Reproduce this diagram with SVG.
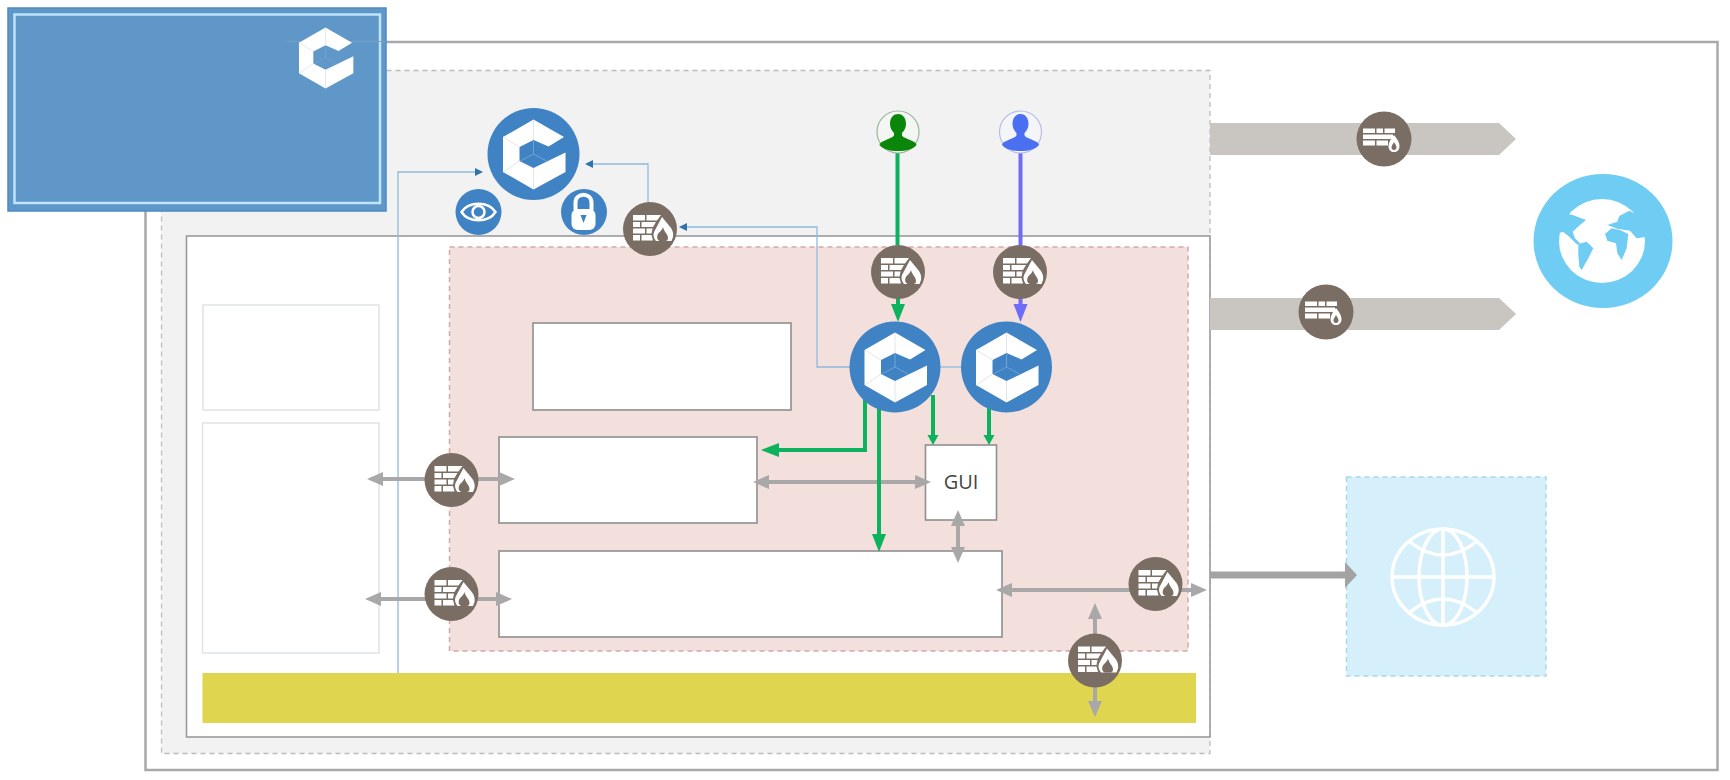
<svg xmlns="http://www.w3.org/2000/svg" xmlns:xlink="http://www.w3.org/1999/xlink" width="1730" height="780" viewBox="0 0 1730 780">
<style>
.box{fill:#fff;stroke:#8f8f8f;stroke-width:1.6}
.lbox{fill:#fff;stroke:#dfe4e8;stroke-width:1.5}
.thin{fill:none;stroke:#8fbbdc;stroke-width:1.3}
.gray{fill:none;stroke:#a8a8a8;stroke-width:4;marker-start:url(#gh);marker-end:url(#gh)}
.green{fill:none;stroke:#0db25c;stroke-width:4}
.violet{fill:none;stroke:#6f6cf7;stroke-width:4}
.fwbg{fill:#7a6e64}
.circ{fill:#4083c4}
.w{fill:#fff}
</style>
<defs>
<marker id="gh" markerUnits="userSpaceOnUse" markerWidth="18" markerHeight="16" refX="2" refY="8" orient="auto-start-reverse"><path d="M0,1 L16,8 L0,15 Z" fill="#a8a8a8"/></marker>
<marker id="gthick" markerUnits="userSpaceOnUse" markerWidth="14" markerHeight="28" refX="1" refY="14" orient="auto"><path d="M0,1 L12,14 L0,27 Z" fill="#a3a3a3"/></marker>
<marker id="gnL" markerUnits="userSpaceOnUse" markerWidth="20" markerHeight="16" refX="2" refY="8" orient="auto"><path d="M0,1 L18,8 L0,15 Z" fill="#0db25c"/></marker>
<marker id="gnS" markerUnits="userSpaceOnUse" markerWidth="12" markerHeight="14" refX="1" refY="7" orient="auto"><path d="M0,1.500 L10,7 L0,12.500 Z" fill="#0db25c"/></marker>
<marker id="vi" markerUnits="userSpaceOnUse" markerWidth="20" markerHeight="16" refX="2" refY="8" orient="auto"><path d="M0,1 L18,8 L0,15 Z" fill="#6f6cf7"/></marker>
<marker id="bl" markerUnits="userSpaceOnUse" markerWidth="9" markerHeight="10" refX="1" refY="5" orient="auto"><path d="M0,1 L8,5 L0,9 Z" fill="#2f73ad"/></marker>
<g id="logo">
<path class="w" d="M0,-34.500 L30.500,-17 L15,-7.500 L0,-14 L-14,-7 L-14,7 L0,14 L32,-1.500 L32,18 L0,35.500 L-30.500,18 L-30.500,-17 Z"/>
<path d="M0,-34 V-14 M-30,-17 L-14,-7 M-30,18 L-14,7 M0,35 V14" fill="none" stroke="#e2e6ea" stroke-width="1"/>
<path d="M0,0 V-13 M0,0 L-13,7 M0,0 L13,7" fill="none" stroke="#6fa3d4" stroke-width="1"/>
</g>
<g id="fwi">
<path class="w" d="M-17,-14 H-5 V-8.500 H-17 Z M-3.500,-14 H11 L7,-8.500 H-3.500 Z M-17,-7 H-10 V-2 H-17 Z M-8.500,-7 H6 L3,-2 H-8.500 Z M-17,-0.500 H-5 V4.500 H-17 Z M-3.500,-0.500 H2.500 L1.500,4.500 H-3.500 Z M-17,6 H-10 V11.500 H-17 Z M-8.500,6 H1.500 L3,11.500 H-8.500 Z"/>
<path class="w" d="M12,-12 L21,-1 C23,2 23.500,5 23,8 L21.500,12 L6,12 C3.500,9 3,6 4,3 Z"/>
<path class="fwbg" d="M13,-2 C14,3 18,5 18,9 C18,11 17,12 15.500,12 L9.500,12 C7.500,11 6.500,9 7.500,6 C8.500,3 12,2 13,-2 Z"/>
</g>
<g id="fws">
<path class="w" d="M-21,-10.500 H-9 V-6 H-21 Z M-7.500,-10.500 H-1 V-6 H-7.500 Z M0.500,-10.500 H11 V-6 H0.500 Z M-21,-4.500 H9 V0 H-21 Z M-21,1.500 H-9 V6.500 H-21 Z M-7.500,1.500 H4 V6.500 H-7.500 Z"/>
<path class="w" d="M10,-4 C13,0 15.500,3 15.500,7 C15.500,11 13,13 10,13 C7,13 4.500,11 4.500,7 C4.500,3 7,0 10,-4 Z"/>
<path class="fwbg" d="M10,3 C11,5 12.500,6.500 12.500,8.500 C12.500,10 11.500,11 10,11 C8.500,11 7.500,10 7.500,8.500 C7.500,6.500 9,5 10,3 Z"/>
</g>
<g id="fw"><circle class="fwbg" r="27"/><use xlink:href="#fwi" href="#fwi"/></g>
<path id="person" d="M-8,-8 C-8,-15 -4,-18 0,-18 C4,-18 8,-15 8,-8 C8,-4 6,-1 4,1 V3 C4,5 8,6 12,8 C15,9.500 18,10 18.500,13 C15,17 9,19 0,19 C-9,19 -15,17 -18.500,13 C-18,10 -15,9.500 -12,8 C-8,6 -4,5 -4,3 V1 C-6,-1 -8,-4 -8,-8 Z"/>
</defs>
<rect width="1730" height="780" fill="#fff"/>
<g id="outer-frame"><rect x="145.500" y="42" width="1572" height="728" fill="#fff" stroke="#a9a9a9" stroke-width="2.500"/></g>
<g id="panel"><rect x="161.500" y="70.500" width="1048.500" height="683" fill="#f2f2f2" stroke="#bdbdbd" stroke-width="1.300" stroke-dasharray="5 4"/></g>
<g id="inner-frame"><rect x="186.500" y="236" width="1023.500" height="501" fill="#fff" stroke="#9a9a9a" stroke-width="1.600"/></g>
<g id="pink-zone"><rect x="449.500" y="247" width="738.500" height="404" fill="#f3dfdc" stroke="#d3a9ab" stroke-width="1.500" stroke-dasharray="5 4"/></g>
<g id="left-box-1"><rect class="lbox" x="203" y="305" width="176" height="105"/></g>
<g id="left-box-2"><rect class="lbox" x="202.500" y="423" width="176.500" height="230"/></g>
<g id="yellow-bar"><rect x="202.500" y="673" width="993.500" height="50" fill="#e0d54f"/></g>
<g id="box-top"><rect class="box" x="533" y="323" width="258" height="87"/></g>
<g id="box-mid"><rect class="box" x="499" y="437" width="258" height="86"/></g>
<g id="box-bottom"><rect class="box" x="499" y="551" width="503" height="86"/></g>
<g id="gui"><rect class="box" x="925.500" y="445" width="71" height="75"/><text x="961" y="489" font-family="'Open Sans','Noto Sans',sans-serif" font-size="20" fill="#444" text-anchor="middle">GUI</text></g>
<g id="band-1"><path d="M1210,123 H1499 L1516,139 L1499,155 H1210 Z" fill="#c9c5c0"/></g>
<g id="band-2"><path d="M1210,298 H1499 L1516,314 L1499,330 H1210 Z" fill="#c9c5c0"/></g>
<g id="net-zone"><rect x="1346.500" y="477" width="199.500" height="199" fill="#d5f0fb" stroke="#a9d7ea" stroke-width="1.500" stroke-dasharray="5 4"/>
<g transform="translate(1443 577)" fill="none" stroke="#fff" stroke-width="3.500"><ellipse rx="51" ry="48"/><ellipse rx="24" ry="48"/><path d="M0,-48 V48 M-51,0 H51 M-33,-35 Q0,-9 33,-35 M-33,35 Q0,9 33,35"/></g></g>
<g id="connectors">
<path class="thin" d="M398,673 V172 H476" marker-end="url(#bl)"/>
<path class="thin" d="M648,205 V164 H592" marker-end="url(#bl)"/>
<path class="thin" d="M850,367 H817 V227 H686" marker-end="url(#bl)"/>
<path class="thin" d="M940,367 H962"/>
<path class="gray" d="M381,479 H501"/>
<path class="gray" d="M379,599 H498"/>
<path class="gray" d="M767,482 H917"/>
<path class="gray" d="M958,524 V549"/>
<path class="gray" d="M1010,590 H1193"/>
<path class="gray" d="M1095,617 V703"/>
<path d="M1210,575 H1346" fill="none" stroke="#a3a3a3" stroke-width="7" marker-end="url(#gthick)"/>
<path class="green" d="M897.500,153 V245"/>
<path class="green" d="M898,298 V306" marker-end="url(#gnL)"/>
<path class="violet" d="M1020.500,153 V245"/>
<path class="violet" d="M1020.500,298 V306" marker-end="url(#vi)"/>
<path class="green" d="M865,395 V450 H777" marker-end="url(#gnL)"/>
<path class="green" d="M879,400 V536" marker-end="url(#gnL)"/>
<path class="green" d="M933,395 V436" marker-end="url(#gnS)"/>
<path class="green" d="M989,405 V436" marker-end="url(#gnS)"/>
</g>
<g id="earth">
<ellipse cx="1603" cy="241" rx="69.500" ry="67" fill="#6fcdf3"/>
<ellipse cx="1602" cy="241" rx="43" ry="42" fill="#fff"/>
<g transform="translate(1530 170) scale(.3333)" fill="#6fcdf3">
<path d="M80,135 L100,128 L130,136 L168,150 L150,165 L128,185 L135,205 L150,220 L142,224 L115,198 L100,186 L80,190 Z"/>
<path d="M145,222 L170,215 L190,235 L175,265 L155,300 L148,290 L145,255 Z"/>
<path d="M225,192 L245,175 L270,180 L295,192 L290,235 L275,270 L262,250 L258,220 L232,212 Z"/>
<path d="M232,165 L262,155 L268,138 L298,122 L352,150 L352,200 L320,205 L300,182 L262,176 Z"/>
</g>
</g>
<g id="mgmt-logo"><circle class="circ" cx="533.500" cy="154" r="46"/><use xlink:href="#logo" href="#logo" transform="translate(533.500 154)"/></g>
<g id="eye"><circle class="circ" cx="478.500" cy="212" r="23"/><g transform="translate(478.500 212)"><path d="M-17,0 C-10,-11 10,-11 17,0 C10,11 -10,11 -17,0 Z" fill="none" stroke="#fff" stroke-width="2.500"/><circle r="6" fill="#4083c4" stroke="#fff" stroke-width="2.500"/></g></g>
<g id="lock"><circle class="circ" cx="584" cy="212" r="23"/><g transform="translate(583.500 212)"><path d="M-8,-2 V-9 C-8,-20 8,-20 8,-9 V-2" fill="none" stroke="#fff" stroke-width="4"/><rect x="-12" y="-3" width="24" height="21" rx="6" class="w"/><path d="M-3,3 H3 L0,11 Z" fill="#4083c4"/></g></g>
<g id="logo-a"><circle class="circ" cx="895" cy="367" r="45.500"/><use xlink:href="#logo" href="#logo" transform="translate(895 367)"/></g>
<g id="logo-b"><circle class="circ" cx="1006.500" cy="367" r="45.500"/><use xlink:href="#logo" href="#logo" transform="translate(1006.500 367)"/></g>
<g id="user-green"><circle cx="898" cy="132" r="21" fill="#f4f6f3" stroke="#9cb59c" stroke-width="1.200"/><use xlink:href="#person" href="#person" transform="translate(898 132)" fill="#0a870a"/></g>
<g id="user-blue"><circle cx="1020.500" cy="132" r="21" fill="#f4f5f8" stroke="#b6bde6" stroke-width="1.200"/><use xlink:href="#person" href="#person" transform="translate(1020.500 132)" fill="#4a6ff0"/></g>
<g id="fw-1"><use xlink:href="#fw" href="#fw" transform="translate(650 229)"/></g>
<g id="fw-2"><use xlink:href="#fw" href="#fw" transform="translate(898 272)"/></g>
<g id="fw-3"><use xlink:href="#fw" href="#fw" transform="translate(1020 272)"/></g>
<g id="fw-4"><use xlink:href="#fw" href="#fw" transform="translate(451.500 480)"/></g>
<g id="fw-5"><use xlink:href="#fw" href="#fw" transform="translate(451.500 594)"/></g>
<g id="fw-6"><use xlink:href="#fw" href="#fw" transform="translate(1155.500 584)"/></g>
<g id="fw-7"><use xlink:href="#fw" href="#fw" transform="translate(1095 660.500)"/></g>
<g id="fw-8"><circle class="fwbg" cx="1384" cy="139" r="27.500"/><use xlink:href="#fws" href="#fws" transform="translate(1384 139)"/></g>
<g id="fw-9"><circle class="fwbg" cx="1326" cy="312" r="27.500"/><use xlink:href="#fws" href="#fws" transform="translate(1326 312)"/></g>
<g id="title-box">
<rect x="8" y="8" width="378" height="203" fill="#5f97c8" stroke="#4f8ac4" stroke-width="1.500"/>
<rect x="14.500" y="14.500" width="365.500" height="188.500" fill="#5f97c8" stroke="#c0e4fb" stroke-width="2.500"/>
<path d="M286,41.500 H386" stroke="#7b9fc0" stroke-width="1" fill="none"/>
<use xlink:href="#logo" href="#logo" transform="translate(325.500 57.500) scale(.87)"/>
</g>
</svg>
